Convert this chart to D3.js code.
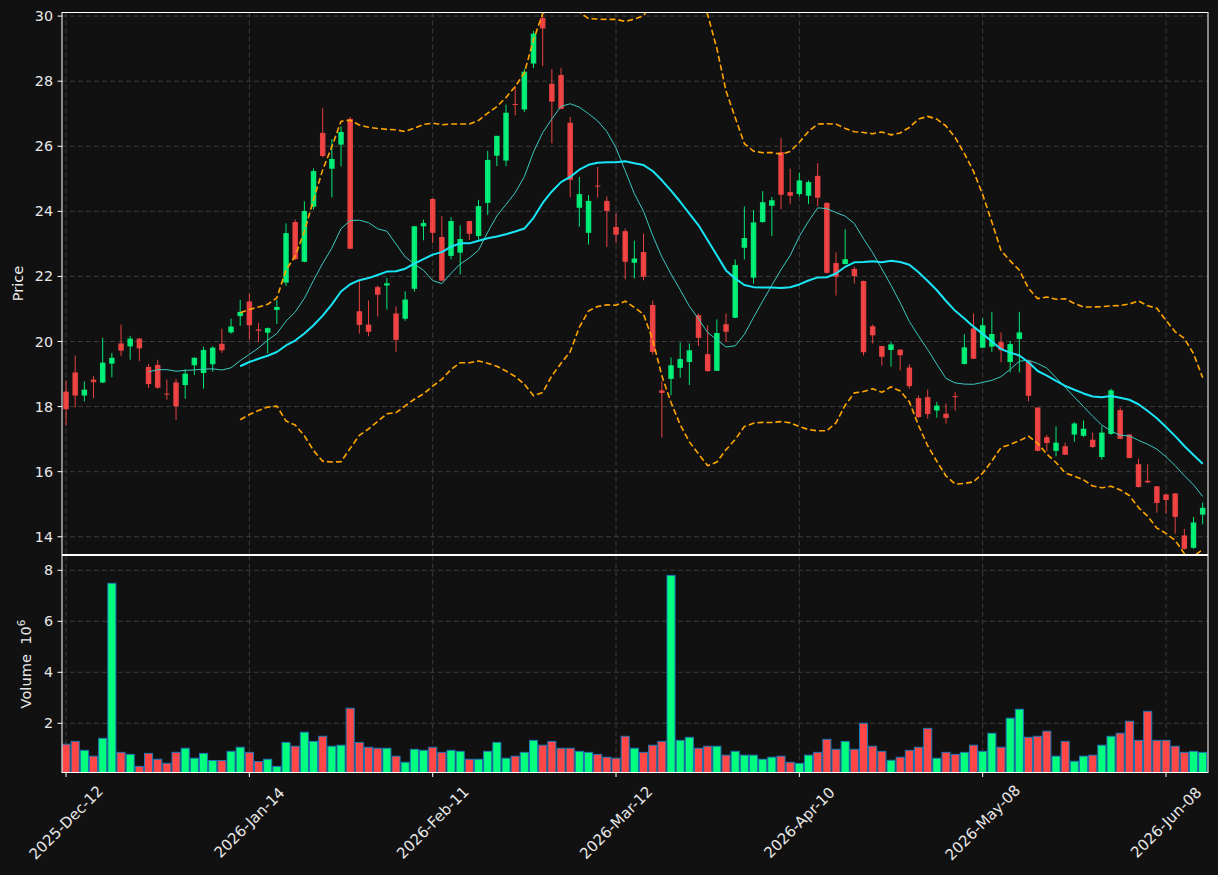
<!DOCTYPE html>
<html><head><meta charset="utf-8">
<script src="https://cdn.jsdelivr.net/npm/d3@7"></script>
<style>
body{margin:0;background:#111111;}
svg{display:block;}
text{font-family:"DejaVu Sans",sans-serif;}
</style>
</head><body>
<svg id="c" width="1218" height="875"></svg>
<script>
// ---- data ----
const openP = [18.46,19.05,18.34,18.83,18.74,19.32,19.94,19.85,20.09,19.22,
19.28,18.40,18.74,18.66,19.27,19.03,19.30,19.93,20.28,20.78,
21.23,20.37,20.27,20.97,21.81,23.67,22.45,24.14,26.41,25.31,
26.05,26.84,20.93,20.52,21.67,21.72,20.86,20.70,21.62,23.54,
24.38,23.21,22.63,22.73,23.70,23.24,24.26,25.71,25.56,27.30,
27.13,28.54,29.94,27.92,28.19,26.72,24.11,23.34,24.79,24.32,
23.52,23.39,22.42,22.75,21.12,18.50,18.85,19.19,19.37,20.81,
19.61,19.10,20.53,20.73,22.88,21.96,23.67,24.17,25.82,24.59,
24.53,24.48,25.09,24.26,22.41,22.38,22.23,21.86,20.47,19.86,
19.74,19.75,19.20,18.26,18.29,17.88,17.78,18.32,19.31,20.40,
19.81,19.84,19.98,19.37,20.08,19.39,17.97,17.06,16.64,16.78,
17.14,17.10,16.98,16.45,17.16,17.89,17.14,16.23,15.72,15.55,
15.30,15.33,14.04,13.66,14.68];
const highP = [18.80,19.57,18.77,18.94,20.11,19.65,20.52,20.17,20.10,19.31,
19.44,18.83,18.85,19.15,19.51,19.84,19.85,20.39,20.70,21.28,
21.47,20.57,20.43,21.28,23.63,23.75,24.31,25.32,27.17,26.22,
26.61,26.90,21.89,21.26,21.72,21.95,21.08,21.54,23.55,23.75,
24.40,23.85,23.82,23.57,23.71,24.35,25.86,26.32,27.28,27.84,
28.38,29.54,30.02,28.37,28.40,26.90,25.06,24.50,25.36,24.46,
23.94,23.47,23.10,23.32,21.26,18.78,19.51,19.97,19.94,20.86,
20.50,20.68,20.86,22.52,24.15,24.04,24.62,24.44,26.25,25.31,
25.19,24.95,25.48,24.28,22.74,23.45,22.30,21.87,20.52,19.86,
19.99,19.76,19.30,18.34,18.52,18.15,18.09,18.45,20.22,20.86,
20.71,20.91,20.28,20.02,20.91,19.40,17.98,17.13,17.39,16.89,
17.52,17.57,17.20,17.39,18.55,17.97,17.15,16.40,16.23,15.56,
15.32,15.34,14.24,14.61,15.05];
const lowP = [17.42,17.98,18.16,18.26,18.72,18.90,19.55,19.44,19.40,18.57,
18.55,18.21,17.59,18.24,18.97,18.55,19.07,19.65,20.24,20.48,
20.05,19.99,19.63,20.54,21.71,22.50,22.44,24.06,25.66,24.43,
25.38,22.84,20.24,20.16,20.77,20.98,19.68,20.64,21.53,23.11,
23.02,21.85,22.52,22.06,23.12,23.13,23.89,25.39,25.39,26.95,
27.05,28.40,28.46,26.09,27.14,24.43,23.53,22.98,24.42,22.90,
23.02,21.91,21.94,21.88,19.60,17.05,18.35,18.89,18.66,19.86,
19.07,19.09,19.98,20.72,22.52,21.78,23.65,23.24,24.06,24.22,
24.46,24.22,24.16,22.09,21.41,22.37,21.78,19.57,19.94,19.26,
19.23,19.11,18.55,17.65,17.63,17.66,17.48,17.88,19.29,19.46,
19.80,19.68,19.36,19.05,19.05,18.16,16.63,16.62,16.47,16.51,
16.92,17.07,16.73,16.37,17.13,17.00,16.41,15.51,15.65,14.74,
14.71,14.09,13.60,13.63,14.38];
const closeP = [17.92,18.34,18.52,18.75,19.35,19.50,19.72,20.09,19.79,18.69,
18.58,18.38,18.01,19.01,19.50,19.74,19.81,19.73,20.46,20.91,
20.50,20.33,20.41,21.06,23.33,22.53,24.01,25.24,25.70,25.61,
26.44,22.85,20.51,20.30,21.44,21.79,20.05,21.29,23.54,23.64,
23.34,21.87,23.70,23.15,23.31,24.16,25.58,26.32,27.03,27.27,
28.29,29.46,29.62,27.37,27.15,24.97,24.53,24.32,24.77,24.01,
23.28,22.45,22.55,21.99,19.68,18.42,19.27,19.46,19.73,20.11,
19.09,20.26,20.30,22.35,23.18,23.66,24.28,24.34,24.51,24.48,
24.95,24.90,24.42,22.11,21.99,22.53,22.01,19.67,20.19,19.53,
19.91,19.58,18.63,17.68,17.77,18.03,17.65,18.30,19.82,19.47,
20.50,20.23,19.74,19.92,20.28,18.33,16.64,16.88,16.89,16.52,
17.48,17.32,16.76,17.20,18.50,17.01,16.42,15.53,15.67,15.04,
15.13,14.61,13.63,14.44,14.89];
const volume = [1.18,1.29,0.94,0.71,1.41,7.49,0.86,0.78,0.31,0.82,
0.59,0.43,0.86,1.02,0.63,0.82,0.54,0.54,0.90,1.06,
0.86,0.50,0.59,0.31,1.25,1.10,1.65,1.29,1.49,1.10,
1.14,2.59,1.25,1.06,1.02,1.02,0.71,0.47,0.98,0.94,
1.06,0.86,0.94,0.90,0.59,0.59,0.90,1.25,0.63,0.71,
0.86,1.33,1.14,1.29,1.02,1.02,0.90,0.86,0.78,0.67,
0.63,1.49,1.02,0.86,1.14,1.29,7.80,1.33,1.45,1.02,
1.10,1.10,0.75,0.90,0.75,0.75,0.59,0.67,0.71,0.47,
0.43,0.75,0.86,1.37,0.98,1.29,0.98,2.00,1.10,0.90,
0.55,0.67,0.94,1.06,1.80,0.63,0.86,0.78,0.86,1.14,
0.90,1.61,1.06,2.20,2.55,1.45,1.49,1.69,0.71,1.29,
0.51,0.71,0.75,1.14,1.49,1.61,2.08,1.33,2.47,1.33,
1.33,1.10,0.86,0.90,0.86];
const tickIndex = [0,20,40,60,80,100,120];
const tickLabels = ["2025-Dec-12","2026-Jan-14","2026-Feb-11","2026-Mar-12","2026-Apr-10","2026-May-08","2026-Jun-08"];
const priceTicks = [14,16,18,20,22,24,26,28,30];
const volTicks = [2,4,6,8];
const maShortLen = 10, maLongLen = 20, bandK = 2;

// ---- layout ----
const L = 62, R = 1208, PT = 12.5, PB = 554.5, VT = 555.5, VB = 772.5;
const BG = "#111111", UP = "#00ff7f", DOWN = "#ff4747", GRID = "#3c3c3c", FG = "#e8e8e8";
const N = closeP.length;
const idx = d3.range(N);

const svg = d3.select("#c");
svg.append("rect").attr("width",1218).attr("height",875).attr("fill",BG);

const x = d3.scaleLinear().domain([-0.44, 124.58]).range([L, R]);
const y = d3.scaleLinear().domain([13.47, 30.11]).range([554, PT]);
const yv = d3.scaleLinear().domain([0.07, 8.58]).range([VB, 555.5]);
const step = x(1) - x(0);

const defs = svg.append("defs");
defs.append("clipPath").attr("id","cp").append("rect").attr("x",L).attr("y",PT).attr("width",R-L).attr("height",PB-PT);
defs.append("clipPath").attr("id","cv").append("rect").attr("x",L).attr("y",VT).attr("width",R-L).attr("height",VB-VT);

// grids
function grid(g, ys, yScale, y0, y1){
  g.selectAll("line.h").data(ys).join("line").attr("class","h")
    .attr("x1",L).attr("x2",R).attr("y1",d=>yScale(d)).attr("y2",d=>yScale(d))
    .attr("stroke",GRID).attr("stroke-width",1).attr("stroke-dasharray","5,3");
  g.selectAll("line.v").data(tickIndex).join("line").attr("class","v")
    .attr("x1",d=>x(d)).attr("x2",d=>x(d)).attr("y1",y0).attr("y2",y1)
    .attr("stroke",GRID).attr("stroke-width",1).attr("stroke-dasharray","5,3");
}
grid(svg.append("g"), priceTicks, y, PT, PB);
grid(svg.append("g"), volTicks, yv, VT, VB);

// candles
const gc = svg.append("g").attr("clip-path","url(#cp)");
const col = i => closeP[i] >= openP[i] ? UP : DOWN;
gc.selectAll("line.w").data(idx).join("line").attr("class","w")
  .attr("x1",i=>x(i)).attr("x2",i=>x(i)).attr("y1",i=>y(highP[i])).attr("y2",i=>y(lowP[i]))
  .attr("stroke",col).attr("stroke-width",1).attr("opacity",0.9);
const bw = step*0.6;
gc.selectAll("rect.b").data(idx).join("rect").attr("class","b")
  .attr("x",i=>x(i)-bw/2).attr("width",bw)
  .attr("y",i=>y(Math.max(openP[i],closeP[i])))
  .attr("height",i=>Math.max(1, Math.abs(y(openP[i])-y(closeP[i]))))
  .attr("fill",col).attr("opacity",0.9);

// moving averages & bands (computed from closes)
function sma(arr,n){ return arr.map((_,i)=> i<n-1 ? null : d3.mean(arr.slice(i-n+1,i+1))); }
function sdev(arr,n){ return arr.map((_,i)=> i<n-1 ? null : d3.deviation(arr.slice(i-n+1,i+1))); }
const ma10 = sma(closeP, maShortLen);
const ma20 = sma(closeP, maLongLen);
const sd20 = sdev(closeP, maLongLen);
const upper = ma20.map((m,i)=> m==null?null: m + bandK*sd20[i]);
const lower = ma20.map((m,i)=> m==null?null: m - bandK*sd20[i]);
const line = d3.line().defined(d=>d[1]!=null).x(d=>x(d[0])).y(d=>y(d[1]));
function drawLine(arr, color, w, dash){
  gc.append("path").datum(arr.map((v,i)=>[i,v])).attr("d",line)
    .attr("fill","none").attr("stroke",color).attr("stroke-width",w)
    .attr("stroke-dasharray",dash||null).attr("stroke-linejoin","round");
}
drawLine(ma10, "#3cc8c0", 1, null);
drawLine(ma20, "#19e6f5", 2, null);
drawLine(upper, "#ffa500", 1.6, "6,3");
drawLine(lower, "#ffa500", 1.6, "6,3");

// volume bars
const gv = svg.append("g").attr("clip-path","url(#cv)");
const vw = step*0.88;
gv.selectAll("rect").data(idx).join("rect")
  .attr("x",i=>x(i)-vw/2).attr("width",vw)
  .attr("y",i=>yv(volume[i])).attr("height",i=>VB - yv(volume[i]) + 2)
  .attr("fill",col).attr("stroke","#1f77b4").attr("stroke-width",1);

// frames
svg.append("rect").attr("x",L).attr("y",PT).attr("width",R-L).attr("height",VB-PT)
  .attr("fill","none").attr("stroke","#ffffff").attr("stroke-width",1);
svg.append("line").attr("x1",L).attr("x2",R).attr("y1",555).attr("y2",555)
  .attr("stroke","#ffffff").attr("stroke-width",1.8);

// y axes
function yTicks(ticks, scale){
  const g = svg.append("g");
  g.selectAll("line").data(ticks).join("line")
    .attr("x1",L-4.5).attr("x2",L).attr("y1",d=>scale(d)).attr("y2",d=>scale(d))
    .attr("stroke","#ffffff").attr("stroke-width",1);
  g.selectAll("text").data(ticks).join("text")
    .attr("x",L-9).attr("y",d=>scale(d)).attr("dy","0.35em")
    .attr("text-anchor","end").attr("font-size",14.3).attr("fill",FG).text(d=>d);
}
yTicks(priceTicks, y);
yTicks(volTicks, yv);

// x axis
const gx = svg.append("g");
gx.selectAll("line").data(tickIndex).join("line")
  .attr("x1",d=>x(d)).attr("x2",d=>x(d)).attr("y1",VB).attr("y2",VB+4.5)
  .attr("stroke","#ffffff").attr("stroke-width",1);
gx.selectAll("text").data(tickIndex).join("text")
  .attr("transform",(d)=>`translate(${x(d)},${VB+50}) rotate(-45)`)
  .attr("text-anchor","middle").attr("dy","0.35em")
  .attr("font-size",15).attr("fill",FG).text((d,i)=>tickLabels[i]);

// axis labels
svg.append("text").attr("transform",`translate(23,${(PT+PB)/2}) rotate(-90)`)
  .attr("text-anchor","middle").attr("font-size",14.6).attr("fill",FG).text("Price");
const vl = svg.append("text").attr("transform",`translate(31,${(VT+VB)/2}) rotate(-90)`)
  .attr("text-anchor","middle").attr("font-size",14.6).attr("fill",FG);
vl.append("tspan").text("Volume\u00a0\u00a010");
vl.append("tspan").attr("dy",-6).attr("font-size",10.5).text("6");
</script>
</body></html>
